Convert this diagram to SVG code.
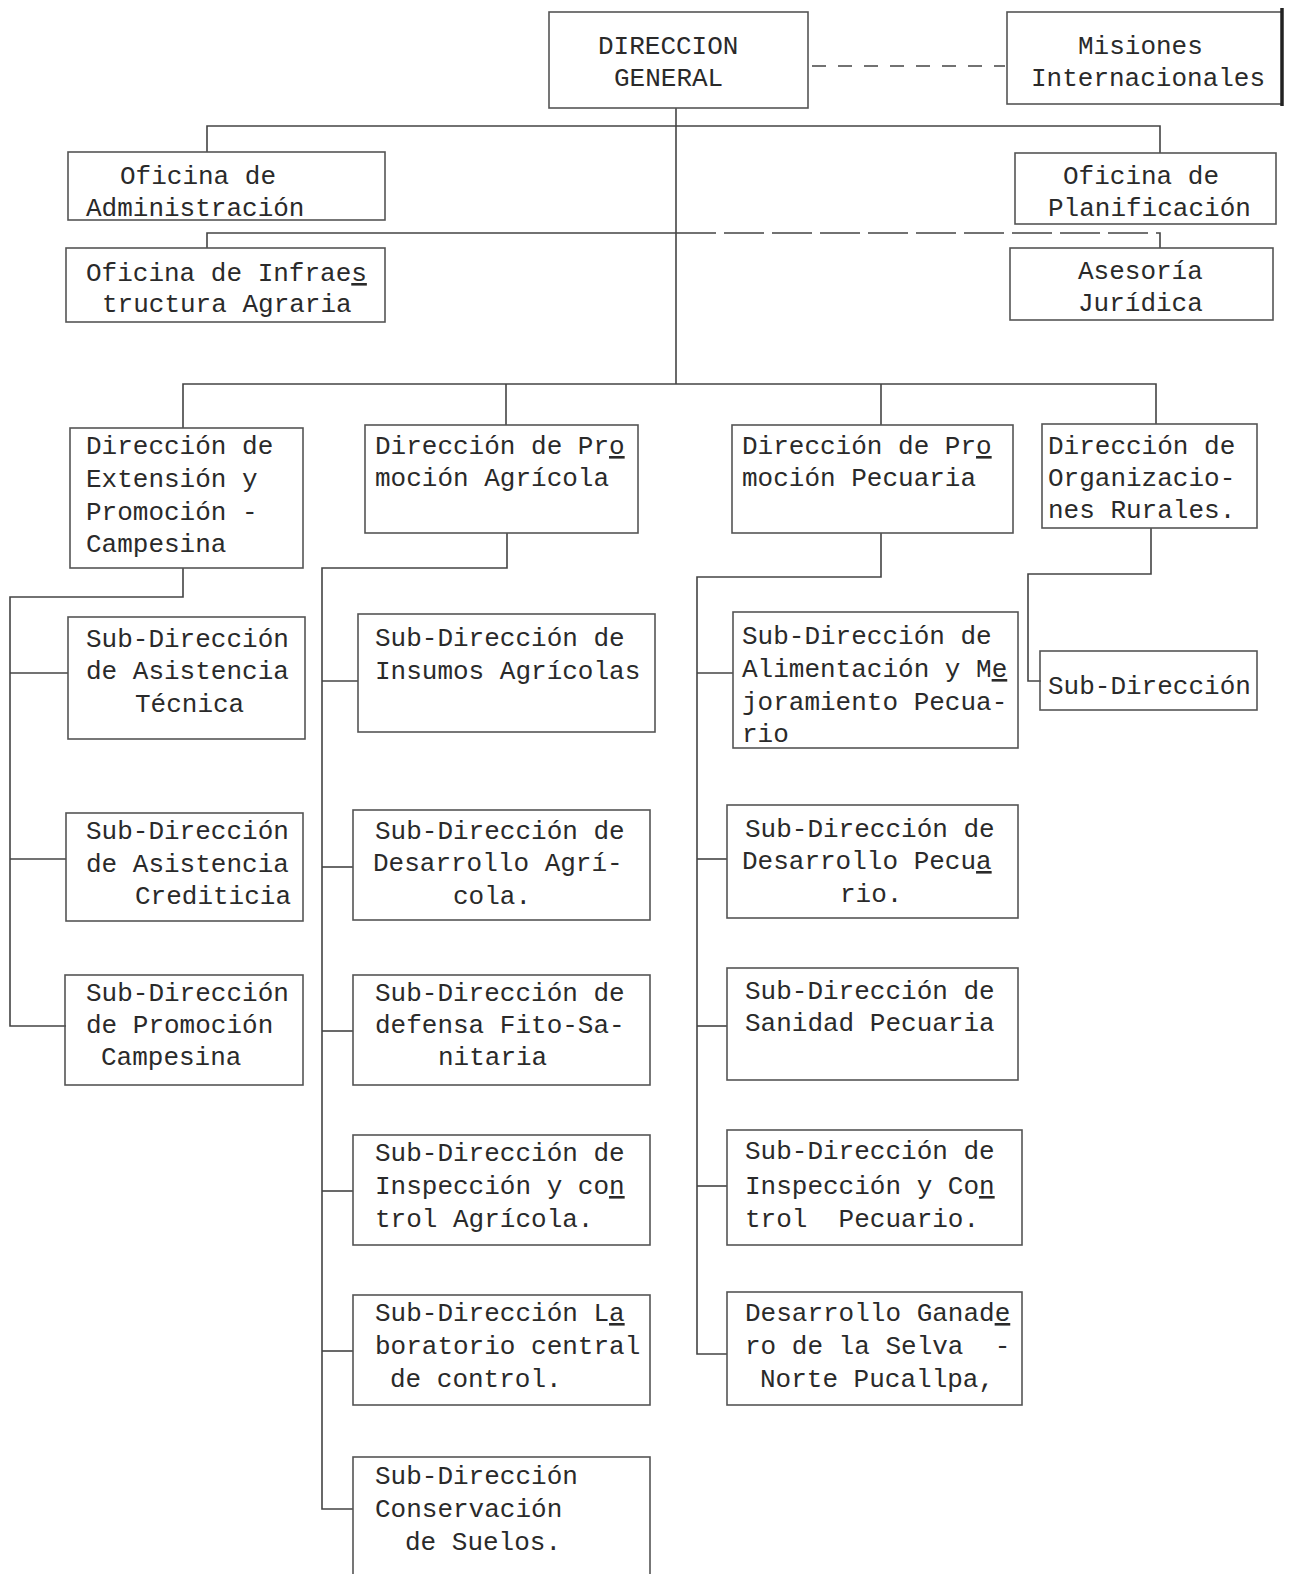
<svg xmlns="http://www.w3.org/2000/svg" width="1295" height="1574" viewBox="0 0 1295 1574">
<style>
.b{fill:none;stroke:#555;stroke-width:1.6}
.c line,.c polyline{fill:none;stroke:#444;stroke-width:1.6}
text{font-family:"Liberation Mono","Courier New",monospace;font-size:26px;fill:#2a2a2a;white-space:pre}
.u{text-decoration:underline}
</style>
<rect width="1295" height="1574" fill="#fff"/>
<g class="c" id="connectors">
<line x1="812" y1="66" x2="1005" y2="66" stroke-dasharray="14 12"/>
<line x1="676" y1="108" x2="676" y2="384"/>
<polyline points="207,152 207,126 1160,126 1160,153"/>
<polyline points="207,248 207,233 676,233"/>
<polyline points="676,233 1160,233 1160,248" stroke-dasharray="40 8"/>
<polyline points="183,428 183,384 1156,384 1156,424"/>
<line x1="506" y1="384" x2="506" y2="425"/>
<line x1="881" y1="384" x2="881" y2="425"/>
<polyline points="183,568 183,597 10,597 10,1026 66,1026"/>
<line x1="10" y1="673" x2="68" y2="673"/>
<line x1="10" y1="859" x2="66" y2="859"/>
<polyline points="507,533 507,568 322,568 322,1509 353,1509"/>
<line x1="322" y1="681" x2="358" y2="681"/>
<line x1="322" y1="867" x2="353" y2="867"/>
<line x1="322" y1="1031" x2="353" y2="1031"/>
<line x1="322" y1="1191" x2="353" y2="1191"/>
<line x1="322" y1="1351" x2="353" y2="1351"/>
<polyline points="881,533 881,577 697,577 697,1354 727,1354"/>
<line x1="697" y1="673" x2="733" y2="673"/>
<line x1="697" y1="859" x2="727" y2="859"/>
<line x1="697" y1="1026" x2="727" y2="1026"/>
<line x1="697" y1="1186" x2="727" y2="1186"/>
<polyline points="1151,528 1151,574 1028,574 1028,681 1041,681"/>
</g>
<g id="dg"><rect class="b" x="549" y="12" width="259" height="96"/><text x="598" y="54">DIRECCION</text><text x="614" y="86">GENERAL</text></g>
<g id="misiones"><rect class="b" x="1007" y="12" width="275" height="92"/><line x1="1282" y1="8" x2="1282" y2="106" stroke="#222" stroke-width="3.5"/><text x="1078" y="54">Misiones</text><text x="1031" y="86">Internacionales</text></g>
<g id="admin"><rect class="b" x="68" y="152" width="317" height="68"/><text x="120" y="184">Oficina de</text><text x="86" y="216">Administración</text></g>
<g id="plan"><rect class="b" x="1015" y="153" width="261" height="71"/><text x="1063" y="184">Oficina de</text><text x="1048" y="216">Planificación</text></g>
<g id="infra"><rect class="b" x="66" y="248" width="319" height="74"/><text x="86" y="281">Oficina de Infrae<tspan class="u">s</tspan></text><text x="102" y="312">tructura Agraria</text></g>
<g id="asesoria"><rect class="b" x="1010" y="248" width="263" height="72"/><text x="1078" y="279">Asesoría</text><text x="1078" y="311">Jurídica</text></g>
<g id="extension"><rect class="b" x="70" y="428" width="233" height="140"/><text x="86" y="454">Dirección de</text><text x="86" y="487">Extensión y</text><text x="86" y="520">Promoción -</text><text x="86" y="552">Campesina</text></g>
<g id="agricola"><rect class="b" x="365" y="425" width="273" height="108"/><text x="375" y="454">Dirección de Pr<tspan class="u">o</tspan></text><text x="375" y="486">moción Agrícola</text></g>
<g id="pecuaria"><rect class="b" x="732" y="425" width="281" height="108"/><text x="742" y="454">Dirección de Pr<tspan class="u">o</tspan></text><text x="742" y="486">moción Pecuaria</text></g>
<g id="organizaciones"><rect class="b" x="1042" y="424" width="215" height="104"/><text x="1048" y="454">Dirección de</text><text x="1048" y="486">Organizacio-</text><text x="1048" y="518">nes Rurales.</text></g>
<g id="tecnica"><rect class="b" x="68" y="617" width="237" height="122"/><text x="86" y="647">Sub-Dirección</text><text x="86" y="679">de Asistencia</text><text x="135" y="712">Técnica</text></g>
<g id="crediticia"><rect class="b" x="66" y="813" width="237" height="108"/><text x="86" y="839">Sub-Dirección</text><text x="86" y="872">de Asistencia</text><text x="135" y="904">Crediticia</text></g>
<g id="campesina"><rect class="b" x="65" y="975" width="238" height="110"/><text x="86" y="1001">Sub-Dirección</text><text x="86" y="1033">de Promoción</text><text x="101" y="1065">Campesina</text></g>
<g id="insumos"><rect class="b" x="358" y="614" width="297" height="118"/><text x="375" y="646">Sub-Dirección de</text><text x="375" y="679">Insumos Agrícolas</text></g>
<g id="desagricola"><rect class="b" x="353" y="810" width="297" height="110"/><text x="375" y="839">Sub-Dirección de</text><text x="373" y="871">Desarrollo Agrí-</text><text x="453" y="904">cola.</text></g>
<g id="fito"><rect class="b" x="353" y="975" width="297" height="110"/><text x="375" y="1001">Sub-Dirección de</text><text x="375" y="1033">defensa Fito-Sa-</text><text x="438" y="1065">nitaria</text></g>
<g id="inspagricola"><rect class="b" x="353" y="1135" width="297" height="110"/><text x="375" y="1161">Sub-Dirección de</text><text x="375" y="1194">Inspección y co<tspan class="u">n</tspan></text><text x="375" y="1227">trol Agrícola.</text></g>
<g id="laboratorio"><rect class="b" x="353" y="1295" width="297" height="110"/><text x="375" y="1321">Sub-Dirección L<tspan class="u">a</tspan></text><text x="375" y="1354">boratorio central</text><text x="390" y="1387">de control.</text></g>
<g id="suelos"><rect class="b" x="353" y="1457" width="297" height="130"/><text x="375" y="1484">Sub-Dirección</text><text x="375" y="1517">Conservación</text><text x="405" y="1550">de Suelos.</text></g>
<g id="alimentacion"><rect class="b" x="733" y="612" width="285" height="136"/><text x="742" y="644">Sub-Dirección de</text><text x="742" y="677">Alimentación y M<tspan class="u">e</tspan></text><text x="742" y="710">joramiento Pecua-</text><text x="742" y="742">rio</text></g>
<g id="despecuario"><rect class="b" x="727" y="805" width="291" height="113"/><text x="745" y="837">Sub-Dirección de</text><text x="742" y="869">Desarrollo Pecu<tspan class="u">a</tspan></text><text x="840" y="902">rio.</text></g>
<g id="sanidad"><rect class="b" x="727" y="968" width="291" height="112"/><text x="745" y="999">Sub-Dirección de</text><text x="745" y="1031">Sanidad Pecuaria</text></g>
<g id="insppecuario"><rect class="b" x="727" y="1130" width="295" height="115"/><text x="745" y="1159">Sub-Dirección de</text><text x="745" y="1194">Inspección y Co<tspan class="u">n</tspan></text><text x="745" y="1227">trol  Pecuario.</text></g>
<g id="ganadero"><rect class="b" x="727" y="1292" width="295" height="113"/><text x="745" y="1321">Desarrollo Ganad<tspan class="u">e</tspan></text><text x="745" y="1354">ro de la Selva  -</text><text x="760" y="1387">Norte Pucallpa,</text></g>
<g id="subdir-org"><rect class="b" x="1040" y="651" width="217" height="59"/><text x="1048" y="694">Sub-Dirección</text></g>
</svg>
